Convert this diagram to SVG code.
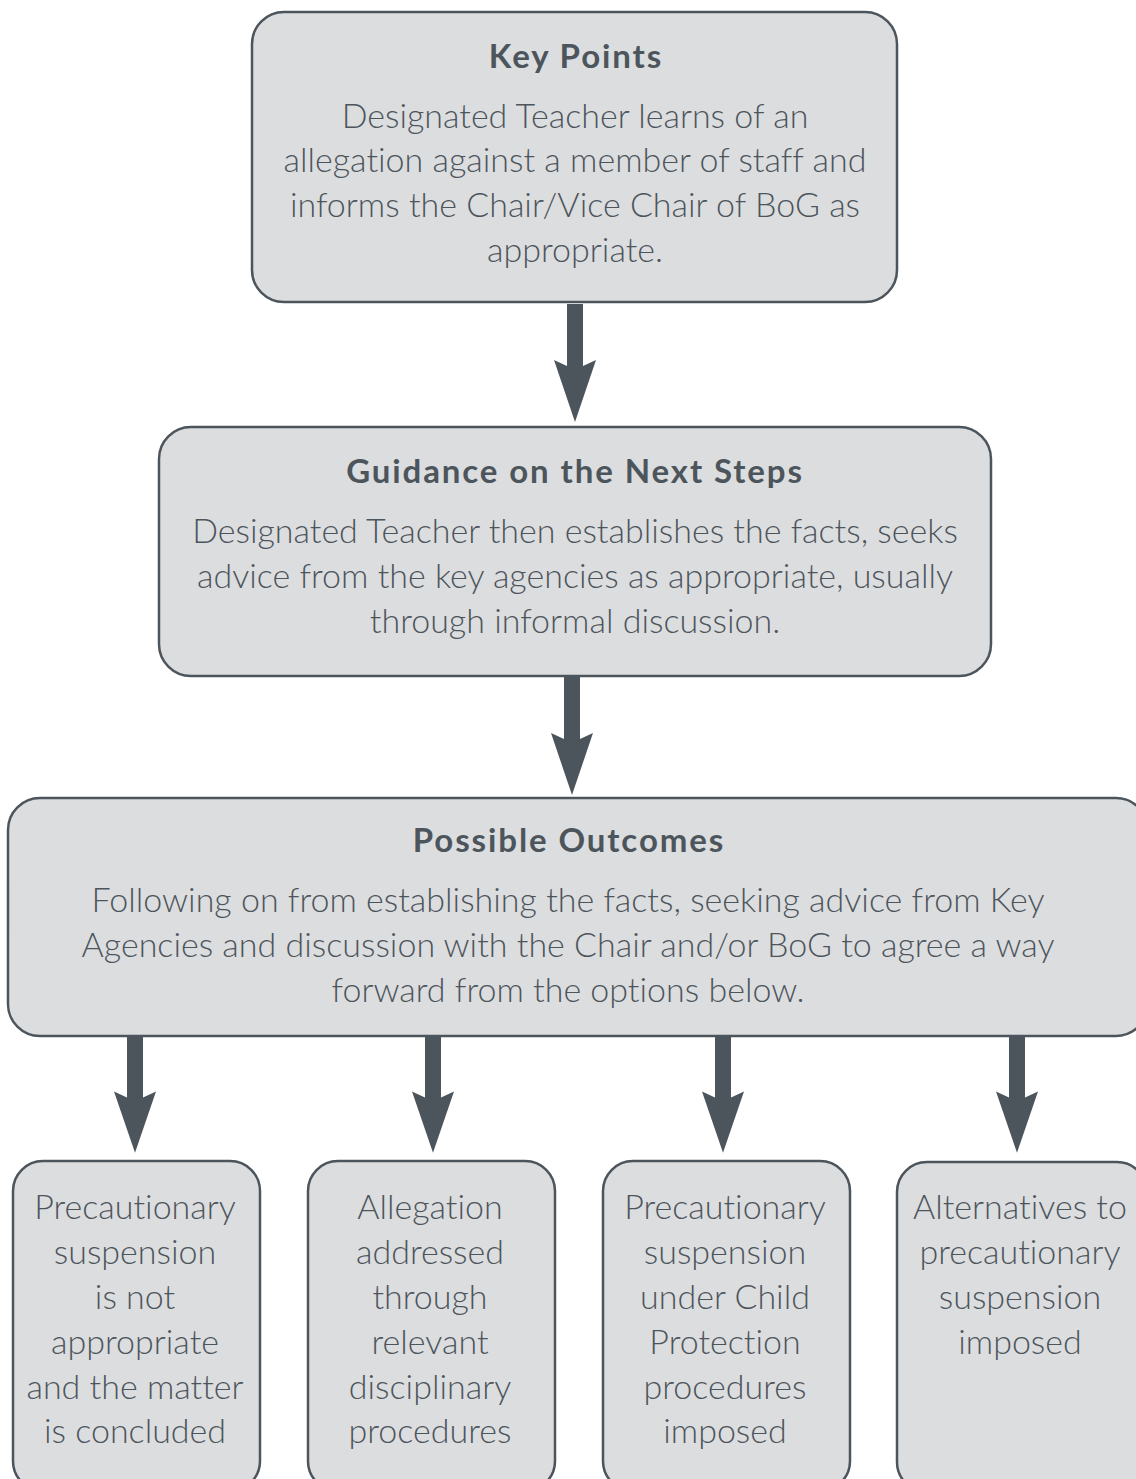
<svg xmlns="http://www.w3.org/2000/svg" width="1136" height="1479" viewBox="0 0 1136 1479">
<defs>
<style>
.box{fill:#dcdddf;stroke:#4d555c;stroke-width:2.5}
.t{font-family:Lato,"Open Sans","Liberation Sans",sans-serif;font-weight:300;font-size:34px;fill:#4d555c;text-anchor:middle;font-variant-ligatures:none;font-feature-settings:"liga" 0,"clig" 0}
.h{font-family:Lato,"Open Sans","Liberation Sans",sans-serif;font-weight:700;font-size:33px;letter-spacing:1.9px;fill:#4d555c;text-anchor:middle}
.arr{fill:#4d555c}
</style>
<path id="ar" class="arr" d="M-8,0 H8 V62 L21,56 L0,118 L-21,56 L-8,62 Z"/>
</defs>
<rect width="1136" height="1479" fill="#ffffff"/>
<g id="connectors">
<use href="#ar" x="575" y="304"/>
<use href="#ar" x="572" y="677"/>
<g transform="translate(135,1036) scale(1,0.99)"><use href="#ar"/></g>
<g transform="translate(433,1036) scale(1,0.99)"><use href="#ar"/></g>
<g transform="translate(723,1036) scale(1,0.99)"><use href="#ar"/></g>
<g transform="translate(1017,1036) scale(1,0.99)"><use href="#ar"/></g>
</g>
<g id="key-points">
<rect class="box" x="252" y="12" width="645" height="290" rx="32"/>
<text class="h" x="576" y="68">Key Points</text>
<text class="t" x="575" y="128">Designated Teacher learns of an</text>
<text class="t" x="575" y="172">allegation against a member of staff and</text>
<text class="t" x="575" y="217">informs the Chair/Vice Chair of BoG as</text>
<text class="t" x="575" y="262">appropriate.</text>
</g>
<g id="guidance">
<rect class="box" x="159" y="427" width="832" height="249" rx="32"/>
<text class="h" x="575" y="483">Guidance on the Next Steps</text>
<text class="t" x="575" y="543">Designated Teacher then establishes the facts, seeks</text>
<text class="t" x="575" y="588">advice from the key agencies as appropriate, usually</text>
<text class="t" x="575" y="633">through informal discussion.</text>
</g>
<g id="outcomes">
<rect class="box" x="8" y="798" width="1140" height="238" rx="32"/>
<text class="h" x="569" y="852">Possible Outcomes</text>
<text class="t" x="568" y="912">Following on from establishing the facts, seeking advice from Key</text>
<text class="t" x="568" y="957">Agencies and discussion with the Chair and/or BoG to agree a way</text>
<text class="t" x="568" y="1002">forward from the options below.</text>
</g>
<g id="outcome-1">
<rect class="box" x="13" y="1161" width="247" height="330" rx="30"/>
<text class="t" x="135" y="1219">Precautionary</text>
<text class="t" x="135" y="1264">suspension</text>
<text class="t" x="135" y="1309">is not</text>
<text class="t" x="135" y="1354">appropriate</text>
<text class="t" x="135" y="1399">and the matter</text>
<text class="t" x="135" y="1443">is concluded</text>
</g>
<g id="outcome-2">
<rect class="box" x="308" y="1161" width="247" height="330" rx="30"/>
<text class="t" x="430" y="1219">Allegation</text>
<text class="t" x="430" y="1264">addressed</text>
<text class="t" x="430" y="1309">through</text>
<text class="t" x="430" y="1354">relevant</text>
<text class="t" x="430" y="1399">disciplinary</text>
<text class="t" x="430" y="1443">procedures</text>
</g>
<g id="outcome-3">
<rect class="box" x="603" y="1161" width="247" height="330" rx="30"/>
<text class="t" x="725" y="1219">Precautionary</text>
<text class="t" x="725" y="1264">suspension</text>
<text class="t" x="725" y="1309">under Child</text>
<text class="t" x="725" y="1354">Protection</text>
<text class="t" x="725" y="1399">procedures</text>
<text class="t" x="725" y="1443">imposed</text>
</g>
<g id="outcome-4">
<rect class="box" x="897" y="1162" width="250" height="330" rx="30"/>
<text class="t" x="1020" y="1219">Alternatives to</text>
<text class="t" x="1020" y="1264">precautionary</text>
<text class="t" x="1020" y="1309">suspension</text>
<text class="t" x="1020" y="1354">imposed</text>
</g>
</svg>
